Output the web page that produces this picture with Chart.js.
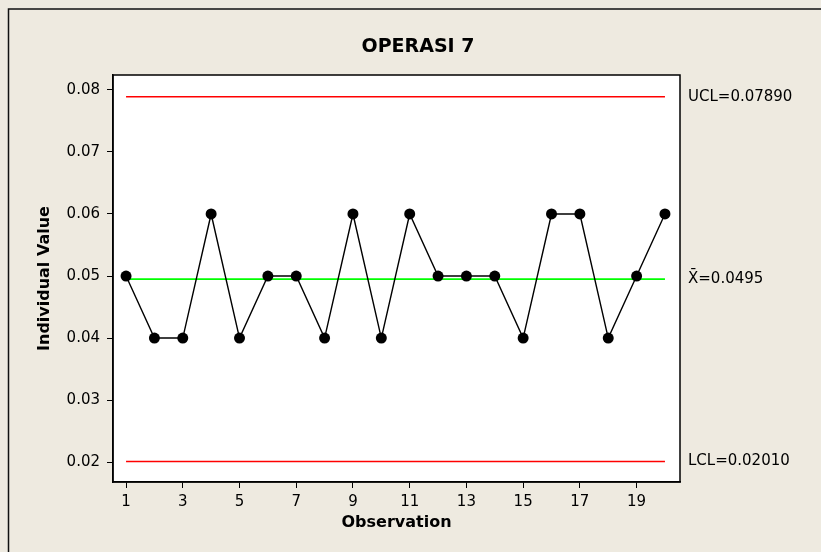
<!DOCTYPE html>
<html lang="id">
<head>
  <meta charset="UTF-8">
  <title>OPERASI 7 – I Chart</title>
  <script src="https://cdn.jsdelivr.net/npm/chart.js"></script>
  <style>
    html, body { margin: 0; padding: 0; background: #eeeae0; }
    #wrap { width: 821px; height: 552px; }
  </style>
</head>
<body>
  <div id="wrap">
    <canvas id="iChart" width="821" height="552"></canvas>
  </div>

  <script>
    // data
    const observations = [1, 2, 3, 4, 5, 6, 7, 8, 9, 10, 11, 12, 13, 14, 15, 16, 17, 18, 19, 20];
    const values = [0.05, 0.04, 0.04, 0.06, 0.04, 0.05, 0.05, 0.04, 0.06, 0.04,
                    0.06, 0.05, 0.05, 0.05, 0.04, 0.06, 0.06, 0.04, 0.05, 0.06];
    const UCL = 0.07890;
    const CL = 0.0495;
    const LCL = 0.02010;
    const limitLabels = ['UCL=0.07890', 'X\u0304=0.0495', 'LCL=0.02010'];
    const xTicks = [1, 3, 5, 7, 9, 11, 13, 15, 17, 19];
    const yTicks = [0.02, 0.03, 0.04, 0.05, 0.06, 0.07, 0.08];

    const FONT = '"DejaVu Sans", sans-serif';
    const first = observations[0], last = observations[observations.length - 1];
    const hline = v => [{ x: first, y: v }, { x: last, y: v }];

    const minitabFrame = {
      id: 'minitabFrame',
      beforeDraw(chart) {
        const { ctx, chartArea: a } = chart;
        ctx.save();
        ctx.fillStyle = '#eeeae0';
        ctx.fillRect(0, 0, chart.width, chart.height);
        ctx.strokeStyle = '#111';
        ctx.lineWidth = 1.5;
        ctx.strokeRect(8.5, 9, chart.width + 20, chart.height + 20);
        ctx.fillStyle = '#fff';
        ctx.fillRect(a.left, a.top, a.right - a.left, a.bottom - a.top);
        ctx.restore();
      },
      afterDraw(chart) {
        const { ctx, chartArea: a, scales: { y } } = chart;
        ctx.save();
        ctx.strokeStyle = '#000';
        ctx.lineWidth = 1.5;
        ctx.strokeRect(a.left, a.top, a.right - a.left, a.bottom - a.top);

        ctx.fillStyle = '#000';
        ctx.font = 'bold 19px ' + FONT;
        ctx.textAlign = 'center';
        ctx.textBaseline = 'middle';
        ctx.fillText('OPERASI 7', 418, 47);

        ctx.font = '15px ' + FONT;
        ctx.textAlign = 'left';
        [UCL, CL, LCL].forEach((v, i) => {
          ctx.fillText(limitLabels[i], a.right + 8, y.getPixelForValue(v));
        });
        ctx.restore();
      }
    };

    new Chart(document.getElementById('iChart'), {
      type: 'line',
      data: {
        datasets: [{
          label: 'Individual',
          data: observations.map((o, i) => ({ x: o, y: values[i] })),
          borderColor: '#000',
          backgroundColor: '#000',
          borderWidth: 1.4,
          pointRadius: 5.5,
          pointHoverRadius: 5.5,
          pointBorderWidth: 0,
          tension: 0
        }, {
          label: 'UCL',
          data: hline(UCL),
          borderColor: '#ff0000',
          borderWidth: 1.6,
          pointRadius: 0
        }, {
          label: 'CL',
          data: hline(CL),
          borderColor: '#00ff00',
          borderWidth: 1.6,
          pointRadius: 0
        }, {
          label: 'LCL',
          data: hline(LCL),
          borderColor: '#ff0000',
          borderWidth: 1.6,
          pointRadius: 0
        }]
      },
      options: {
        responsive: false,
        animation: false,
        devicePixelRatio: 1,
        layout: { padding: { top: 75, left: 0, right: 141, bottom: 0 } },
        plugins: {
          legend: { display: false },
          tooltip: { enabled: false }
        },
        scales: {
          x: {
            type: 'linear',
            min: 0.54,
            max: 20.53,
            afterFit: s => { s.height = 70; },
            afterBuildTicks: s => { s.ticks = xTicks.map(v => ({ value: v })); },
            grid: { drawOnChartArea: false, drawTicks: true, tickLength: 6, color: '#000' },
            border: { display: true, color: '#000', width: 1.5 },
            ticks: { color: '#000', padding: 5, font: { family: FONT, size: 15 }, callback: v => String(v) },
            title: {
              display: true, text: 'Observation', color: '#000',
              font: { family: FONT, size: 16, weight: 'bold' },
              padding: { top: 0, bottom: 20 }
            }
          },
          y: {
            type: 'linear',
            min: 0.0168,
            max: 0.0824,
            afterFit: s => { s.width = 113; },
            afterBuildTicks: s => { s.ticks = yTicks.map(v => ({ value: v })); },
            grid: { drawOnChartArea: false, drawTicks: true, tickLength: 6, color: '#000' },
            border: { display: true, color: '#000', width: 1.5 },
            ticks: { color: '#000', padding: 7, font: { family: FONT, size: 15 }, callback: v => v.toFixed(2) },
            title: {
              display: true, text: 'Individual Value', color: '#000',
              font: { family: FONT, size: 16, weight: 'bold' },
              padding: { top: 35, bottom: 0 }
            }
          }
        }
      },
      plugins: [minitabFrame]
    });
  </script>
</body>
</html>
